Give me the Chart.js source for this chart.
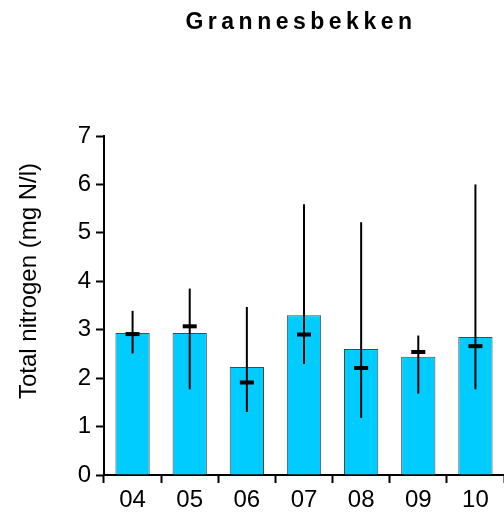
<!DOCTYPE html>
<html>
<head>
<meta charset="utf-8">
<script src="https://cdn.jsdelivr.net/npm/chart.js@4.4.1/dist/chart.umd.min.js"></script>
<style>
  html, body { margin: 0; padding: 0; background: #fff; }
  #wrap { width: 504px; height: 516px; }
</style>
</head>
<body>
<div id="wrap"><canvas id="nitrogenChart" width="504" height="516"></canvas></div>
<script>
// Grannesbekken - total nitrogen per year
var years = ['04', '05', '06', '07', '08', '09', '10'];
var meanValues = [2.93, 2.93, 2.23, 3.30, 2.60, 2.44, 2.85];
var medianValues = [2.91, 3.07, 1.91, 2.90, 2.21, 2.54, 2.66];
var minValues = [2.51, 1.77, 1.30, 2.29, 1.18, 1.68, 1.77];
var maxValues = [3.39, 3.85, 3.47, 5.59, 5.22, 2.88, 6.00];
var yTicks = [0, 1, 2, 3, 4, 5, 6, 7];

var fontFam = '"Liberation Sans", Arial, sans-serif';

// tegner min-maks linje og median-strek paa hver soyle
var rangePlugin = {
    id: 'rangePlugin',
    afterDatasetsDraw: function (chart) {
        var ctx = chart.ctx;
        var x = chart.scales.x;
        var y = chart.scales.y;
        ctx.save();
        ctx.strokeStyle = '#000';
        years.forEach(function (yr, i) {
            var cx = x.getPixelForValue(i);
            ctx.lineWidth = 2;
            ctx.beginPath();
            ctx.moveTo(cx, y.getPixelForValue(minValues[i]));
            ctx.lineTo(cx, y.getPixelForValue(maxValues[i]));
            ctx.stroke();
            ctx.lineWidth = 4;
            var my = y.getPixelForValue(medianValues[i]);
            ctx.beginPath();
            ctx.moveTo(cx - 7, my);
            ctx.lineTo(cx + 7, my);
            ctx.stroke();
        });
        ctx.restore();
    }
};

// tittel med sperret skrift + aksetittel
var titlePlugin = {
    id: 'titlePlugin',
    afterDraw: function (chart) {
        var ctx = chart.ctx;
        ctx.save();
        ctx.font = 'bold 23px ' + fontFam;
        ctx.letterSpacing = '4.5px';
        ctx.fillStyle = '#000';
        ctx.textAlign = 'center';
        ctx.textBaseline = 'middle';
        ctx.fillText('Grannesbekken', 301, 23);
        ctx.restore();

        ctx.save();
        ctx.font = '24px ' + fontFam;
        ctx.fillStyle = '#000';
        ctx.textAlign = 'center';
        ctx.textBaseline = 'middle';
        ctx.translate(29, 281);
        ctx.rotate(-Math.PI / 2);
        ctx.fillText('Total nitrogen (mg N/l)', 0, 0);
        ctx.restore();
    }
};

var ctx = document.getElementById('nitrogenChart').getContext('2d');
var nitrogenChart = new Chart(ctx, {
    type: 'bar',
    data: {
        labels: years,
        datasets: [{
            label: 'Total nitrogen',
            data: meanValues,
            backgroundColor: 'rgb(0, 204, 255)',
            borderColor: '#4a4a4a',
            borderWidth: 1,
            barPercentage: 0.6,
            categoryPercentage: 1.0
        }]
    },
    options: {
        responsive: false,
        animation: false,
        layout: { padding: { top: 136, right: 0, left: 0, bottom: 0 } },
        plugins: {
            legend: { display: false },
            tooltip: { enabled: false },
            title: { display: false }
        },
        scales: {
            x: {
                offset: true,
                grid: {
                    offset: true,
                    drawOnChartArea: false,
                    drawTicks: true,
                    tickLength: 8,
                    tickWidth: 2,
                    tickColor: '#000'
                },
                border: { color: '#000', width: 2 },
                ticks: {
                    color: '#000',
                    padding: 3,
                    font: { family: fontFam, size: 24 }
                },
                afterFit: function (scale) { scale.height = 41; }
            },
            y: {
                min: 0,
                max: 7,
                afterBuildTicks: function (scale) {
                    scale.ticks = yTicks.map(function (v) { return { value: v }; });
                },
                grid: {
                    drawOnChartArea: false,
                    drawTicks: true,
                    tickLength: 8,
                    tickWidth: 2,
                    tickColor: '#000'
                },
                border: { color: '#000', width: 2 },
                ticks: {
                    color: '#000',
                    padding: 5,
                    font: { family: fontFam, size: 24 }
                },
                afterFit: function (scale) { scale.width = 104; }
            }
        }
    },
    plugins: [rangePlugin, titlePlugin]
});
</script>
</body>
</html>
